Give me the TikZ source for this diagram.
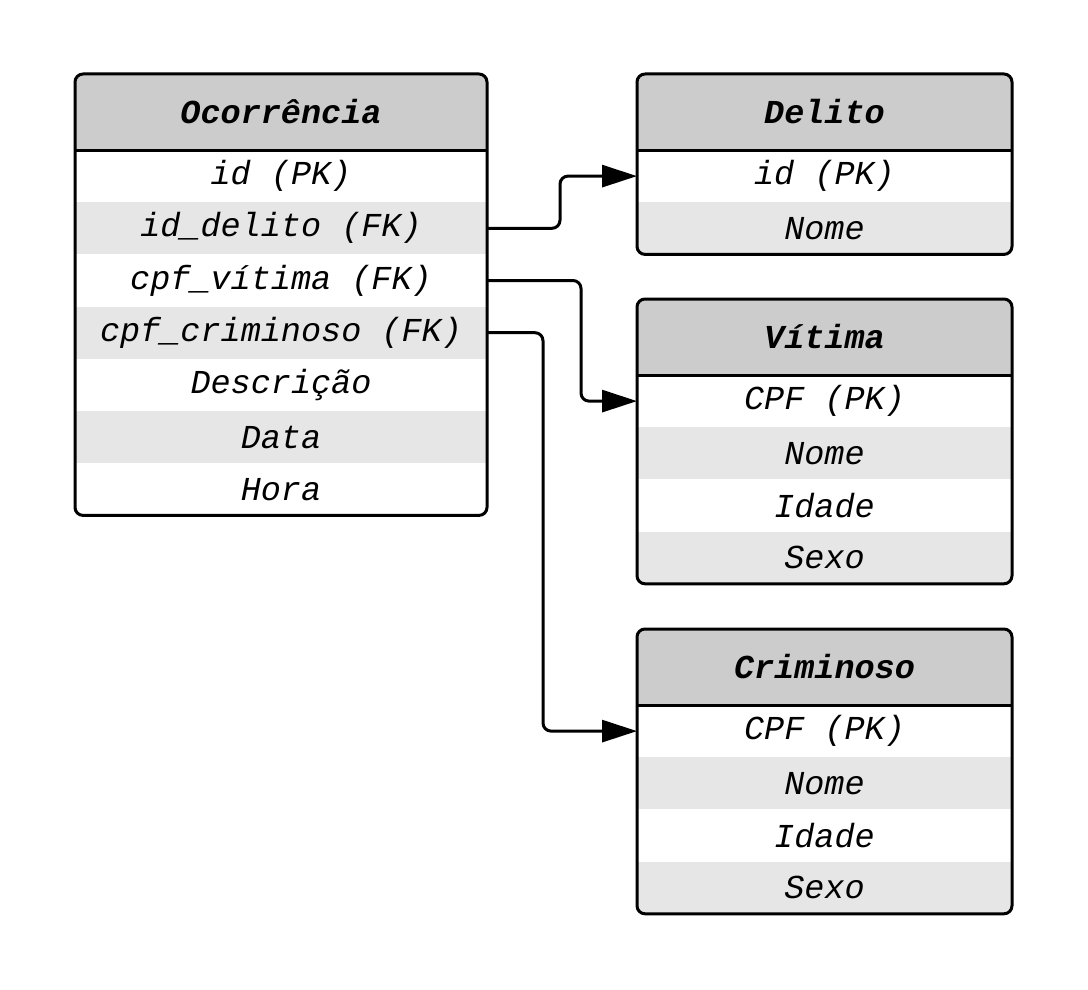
\documentclass[tikz,border=0pt]{standalone}
\usepackage{fontspec}
\setmonofont{Liberation Mono}
\usetikzlibrary{arrows.meta}
\definecolor{cabeca}{HTML}{CCCCCC}
\definecolor{listra}{HTML}{E6E6E6}
% tabela: nome, x, y, largura, titulo, campos
\newcommand\tabela[6]{%
	\foreach \c [count=\i] in {#6} {\xdef\nlin{\i}}
	\begin{scope}
		\clip[rounded corners=8pt] (#2,#3) rectangle ++(#4,{76+\nlin*52.2});
		\node[cabecalho,minimum width=#4pt,anchor=north west] (#1) at (#2,#3) {#5};
		\foreach \c [count=\i] in {#6} {
			\ifodd\i \def\cor{white}\else\def\cor{listra}\fi
			\node[campo,fill=\cor,minimum width=#4pt,anchor=north west] (#1\i) at (#2,{#3+76+(\i-1)*52.2}) {\c};
		}
	\end{scope}
	\draw (#1.south west)--(#1.south east);
	\draw[rounded corners=8pt] (#1.north west) rectangle (#1\nlin.south east);
}
\begin{document}
\begin{tikzpicture}[x=1pt,y=-1pt,line join=round,line width=3pt,>={Triangle[length=35pt,width=22pt]}]
	\tikzset{cabecalho/.style={fill=cabeca,minimum height=76pt,inner sep=0pt,outer sep=0pt,font=\fontsize{33.5}{40}\selectfont\ttfamily\bfseries\itshape},
		campo/.style={minimum height=52.2pt,inner sep=0pt,outer sep=0pt,font=\fontsize{33.5}{40}\selectfont\ttfamily\itshape}}
	\useasboundingbox (0,0) rectangle (1088,990);
	\tabela{oc}{75}{74}{412}{Ocorrência}{id (PK),id\_delito (FK),cpf\_vítima (FK),cpf\_criminoso (FK),Descrição,Data,Hora}
	\tabela{de}{637}{74}{375}{Delito}{id (PK),Nome}
	\tabela{vi}{637}{299}{375}{Vítima}{CPF (PK),Nome,Idade,Sexo}
	\tabela{cr}{637}{629}{375}{Criminoso}{CPF (PK),Nome,Idade,Sexo}
	\draw[->,rounded corners=8pt] (oc2.east)--++(73,0) |- (de1.west);
	\draw[->,rounded corners=8pt] (oc3.east)--++(94,0) |- (vi1.west);
	\draw[->,rounded corners=8pt] (oc4.east)--++(56,0) |- (cr1.west);
\end{tikzpicture}
\end{document}
